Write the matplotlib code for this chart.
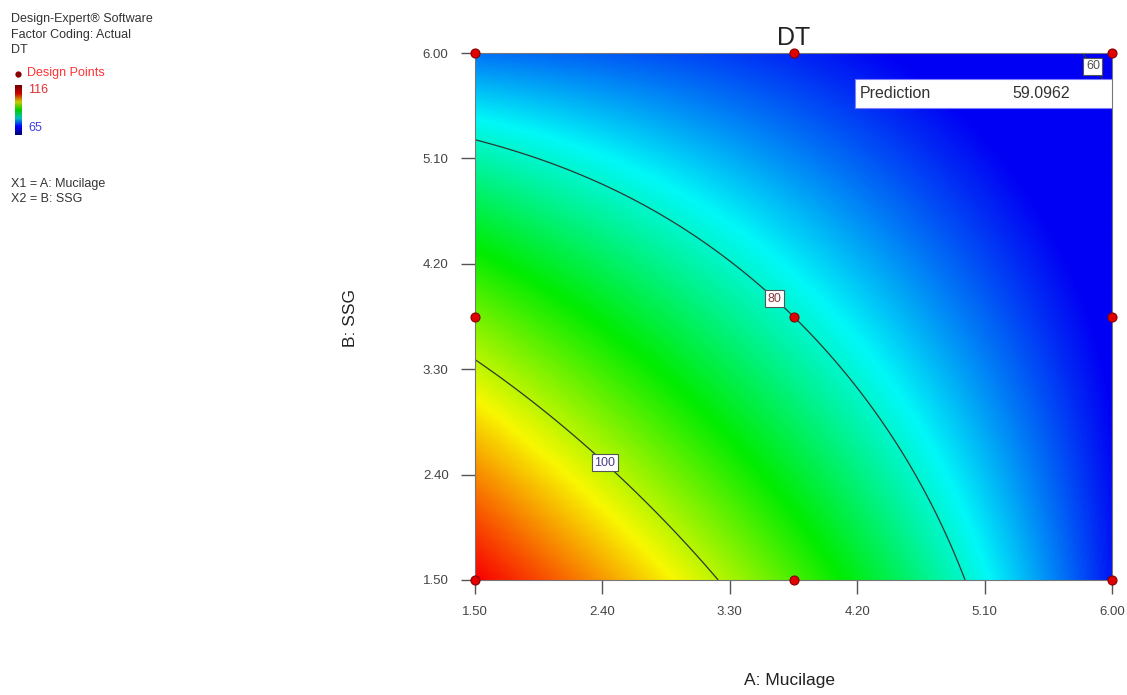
import numpy as np
import matplotlib
matplotlib.use('Agg')
import matplotlib.pyplot as plt
from matplotlib.colors import LinearSegmentedColormap, Normalize
from matplotlib.patches import Rectangle
from numpy.polynomial import polynomial as P

# ---------------- data ----------------
a_levels = [1.5, 3.75, 6.0]          # A: Mucilage design levels
b_levels = [1.5, 3.75, 6.0]          # B: SSG design levels
# predicted DT at the 3x3 design points (rows: A level, cols: B level)
dt_design = [[116.0, 96.4, 71.0],
             [94.3, 80.0, 67.0],
             [66.3, 64.0, 59.1]]
design_a = [1.5, 3.75, 6.0, 1.5, 3.75, 6.0, 1.5, 3.75, 6.0]
design_b = [1.5, 1.5, 1.5, 3.75, 3.75, 3.75, 6.0, 6.0, 6.0]
contour_levels = [60, 80, 100]
x_ticks = [1.50, 2.40, 3.30, 4.20, 5.10, 6.00]
y_ticks = [1.50, 2.40, 3.30, 4.20, 5.10, 6.00]
color_range = [65, 116]
prediction_value = 59.0962

plt.rcParams['font.family'] = ['Liberation Sans', 'DejaVu Sans']

# ---------------- response surface (full biquadratic through design points) -------------
ca = (np.array(a_levels) - 3.75) / 2.25
cb = (np.array(b_levels) - 3.75) / 2.25
CA, CB = np.meshgrid(ca, cb, indexing='ij')
V = P.polyvander2d(CA.ravel(), CB.ravel(), [2, 2])
coef = np.linalg.solve(V, np.array(dt_design).ravel()).reshape(3, 3)

ga = np.linspace(1.5, 6.0, 400)
gb = np.linspace(1.5, 6.0, 400)
GA, GB = np.meshgrid(ga, gb)
Z = P.polyval2d((GA - 3.75) / 2.25, (GB - 3.75) / 2.25, coef)

cmap = LinearSegmentedColormap.from_list(
    'de', ['#0000f4', '#00f8f8', '#00ec00', '#f8f800', '#f80000'])
norm = Normalize(vmin=color_range[0], vmax=color_range[1])

fig = plt.figure(figsize=(11.27, 6.95), dpi=100)
ax = fig.add_axes([475 / 1127, 1 - 580 / 695, 637 / 1127, 527 / 695])

ax.imshow(Z, extent=[1.5, 6.0, 1.5, 6.0], origin='lower', cmap=cmap, norm=norm,
          aspect='auto', interpolation='bilinear')
cs = ax.contour(GA, GB, Z, levels=contour_levels, colors='#2b3a33', linewidths=0.9)
lbls = ax.clabel(cs, fmt='%d', inline=False, fontsize=9,
                 manual=[(5.86, 5.88), (3.64, 3.93), (2.47, 2.57)])
label_colors = {'60': '#505050', '80': '#8a3a3a', '100': '#4a3f8a'}
for t in lbls:
    t.set_rotation(0)
    t.set_color(label_colors.get(t.get_text(), '#333333'))
    t.set_bbox(dict(facecolor='white', edgecolor='#555555', linewidth=0.8, pad=1.8))
    t.set_zorder(7)

ax.plot(design_a, design_b, 'o', ms=6.5, mfc='#e00000', mec='#8a0000', mew=0.8,
        clip_on=False, zorder=8, linestyle='none')

ax.set_xlim(1.5, 6.0)
ax.set_ylim(1.5, 6.0)
ax.set_xticks(x_ticks)
ax.set_yticks(y_ticks)
ax.set_xticklabels([f'{v:.2f}' for v in x_ticks])
ax.set_yticklabels([f'{v:.2f}' for v in y_ticks])
ax.tick_params(direction='out', length=10, width=1.0, color='#555555', pad=9,
               labelsize=9.5, labelcolor='#444444')
for s in ax.spines.values():
    s.set_color('#777777')
    s.set_linewidth(0.8)

ax.set_title('DT', fontsize=18, color='#222222', pad=6)
ax.set_xlabel('A: Mucilage', fontsize=12.5, color='#222222')
ax.xaxis.set_label_coords((790 - 475) / 637, (580 - 673) / 527)
ax.set_ylabel('B: SSG', fontsize=12.5, color='#222222')
ax.yaxis.set_label_coords((358 - 475) / 637, (580 - 318) / 527)

# prediction flag
ax.add_patch(Rectangle((0.5966, 0.8956), 0.4034, 0.0551, transform=ax.transAxes,
                       facecolor='white', edgecolor='#8080ff', linewidth=0.8, zorder=6))
ax.text(0.604, 0.923, 'Prediction', transform=ax.transAxes, fontsize=11.5,
        color='#333333', va='center', ha='left', zorder=7)
ax.text(0.934, 0.923, f'{prediction_value:.4f}', transform=ax.transAxes, fontsize=11.5,
        color='#333333', va='center', ha='right', zorder=7)

# ---------------- left legend block ----------------
def fy(py):
    return 1 - py / 695

txt_kw = dict(fontsize=9, color='#333333', va='center', ha='left')
fig.text(11 / 1127, fy(19), 'Design-Expert® Software', **txt_kw)
fig.text(11 / 1127, fy(35), 'Factor Coding: Actual', **txt_kw)
fig.text(11 / 1127, fy(50), 'DT', **txt_kw)
fig.text(27 / 1127, fy(73), 'Design Points', fontsize=9, color='#ff3333', va='center', ha='left')
fig.lines.append(plt.Line2D([18 / 1127], [fy(74)], marker='o', ms=3.5, mfc='#8a0000',
                            mec='#8a0000', transform=fig.transFigure, figure=fig))
fig.text(28 / 1127, fy(90), str(color_range[1]), fontsize=9, color='#e03030', va='center', ha='left')
fig.text(28 / 1127, fy(128), str(color_range[0]), fontsize=9, color='#4040e0', va='center', ha='left')
cax = fig.add_axes([15 / 1127, fy(135), 7 / 1127, 50 / 695])
bar_cmap = LinearSegmentedColormap.from_list(
    'bar', ['#000070', '#0000ff', '#00c0c0', '#00cc00', '#cccc00', '#cc0000', '#700000'])
cax.imshow(np.linspace(0, 1, 100)[:, None], cmap=bar_cmap, origin='lower', aspect='auto')
cax.set_axis_off()
fig.text(11 / 1127, fy(184), 'X1 = A: Mucilage', **txt_kw)
fig.text(11 / 1127, fy(199), 'X2 = B: SSG', **txt_kw)

fig.savefig('out.png', dpi=100)
